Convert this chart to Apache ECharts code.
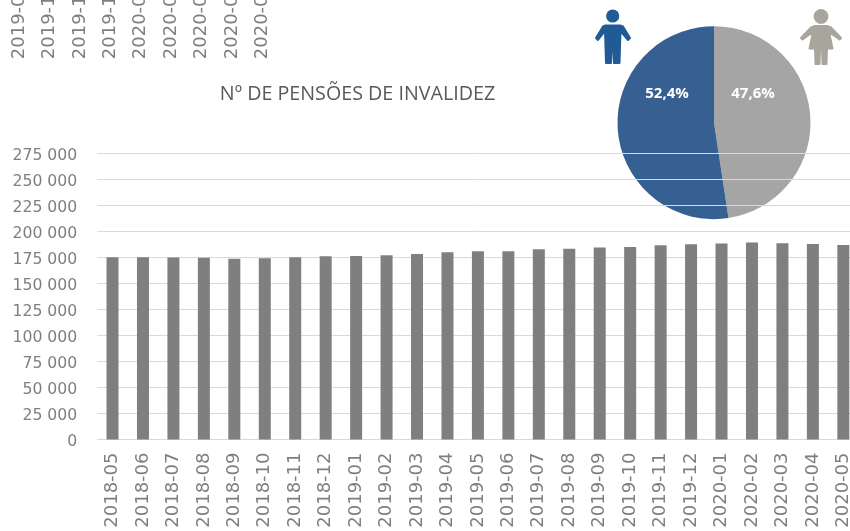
<!DOCTYPE html>
<html>
<head>
<meta charset="utf-8">
<style>html,body{margin:0;padding:0;background:#fff}#chart{width:850px;height:531px}</style>
<script src="https://cdn.jsdelivr.net/npm/echarts@6/dist/echarts.min.js"></script>
</head>
<body>
<div id="chart"></div>
<script>
const months = ['2018-05','2018-06','2018-07','2018-08','2018-09','2018-10','2018-11','2018-12','2019-01','2019-02','2019-03','2019-04','2019-05','2019-06','2019-07','2019-08','2019-09','2019-10','2019-11','2019-12','2020-01','2020-02','2020-03','2020-04','2020-05']
const pensions = [175300,175200,175000,174800,173800,174200,175200,176100,176500,177200,178300,180000,181000,181000,182900,183500,184500,185200,186800,187800,188400,189400,188700,188100,187100]
// labels left over from the chart above, cut off by the top edge
const cutMonths = ['2019-09','2019-10','2019-11','2019-12','2020-01','2020-02','2020-03','2020-04','2020-05']
const sexNames = ['Mulheres','Homens']
const sexShares = [47.6,52.4]
const sexColors = ['#a5a5a5','#376092']

const fontName = '"DejaVu Sans"'
const textGrey = '#7f7f7f'
const chart = echarts.init(document.getElementById('chart'))

const opt = {
  animation: false,
  backgroundColor: '#fff',
  title: {
    text: 'Nº DE PENSÕES DE INVALIDEZ',
    left: 352.5, top: 79, textAlign: 'center',
    textStyle: { fontFamily: '"Open Sans"', fontSize: 19.7, fontWeight: 'normal', color: '#595959' }
  },
  grid: [
    { left: 97.3, top: 153.5, width: 761.25, height: 286, outerBoundsMode: 'none' },
    { left: 3.8, top: -30, width: 274, height: 1, outerBoundsMode: 'none' }
  ],
  xAxis: [
    {
      type: 'category', gridIndex: 0, data: months,
      axisLine: { lineStyle: { color: '#d9d9d9' } },
      axisTick: { show: false },
      axisLabel: { rotate: 90, interval: 0, margin: 13, fontFamily: fontName, fontSize: 18, color: textGrey }
    },
    {
      type: 'category', gridIndex: 1, data: cutMonths,
      axisLine: { show: false },
      axisTick: { show: false },
      axisLabel: { rotate: 90, interval: 0, margin: 13, fontFamily: fontName, fontSize: 18, color: textGrey }
    }
  ],
  yAxis: [
    {
      type: 'value', gridIndex: 0, min: 0, max: 275000, interval: 25000,
      axisLine: { show: false },
      axisTick: { show: false },
      splitLine: { lineStyle: { color: '#d9d9d9' } },
      axisLabel: {
        margin: 20, fontFamily: fontName, fontSize: 15.7, color: textGrey,
        verticalAlign: 'top', lineHeight: 4,
        formatter: v => String(v).replace(/\B(?=(\d{3})+$)/g, ' ')
      }
    },
    { type: 'value', gridIndex: 1, show: false }
  ],
  series: [
    {
      // behind the grid lines, they run across the pie in the original
      type: 'pie', z: -1,
      center: [714, 122.7], radius: 96.5, startAngle: 90,
      data: sexNames.map((n, i) => ({ name: n, value: sexShares[i], itemStyle: { color: sexColors[i] } })),
      label: {
        position: 'inside',
        formatter: p => p.value.toFixed(1).replace('.', ',') + '%',
        fontFamily: '"Open Sans"', fontSize: 15, fontWeight: 'bold', color: '#fff'
      },
      labelLine: { show: false },
      labelLayout: p => ({ x: p.dataIndex === 0 ? 753 : 667, y: 94, align: 'center', verticalAlign: 'middle' }),
      emphasis: { disabled: true }
    },
    {
      type: 'bar', xAxisIndex: 0, yAxisIndex: 0,
      data: pensions, barWidth: 12,
      itemStyle: { color: '#7f7f7f' }
    }
  ],
  graphic: [
    { type: 'circle', shape: { cx: 612.7, cy: 16, r: 6.6 }, style: { fill: '#215b96' } },
    {
      type: 'polygon',
      shape: { points: [[605.5,25.5],[620,25.5],[623,26.5],[630,38],[628,40],[620.5,31],[619.5,63],[614,63],[613.5,46],[612,46],[611,63],[606,63],[605,31],[598,40],[596,38],[603,26.5]] },
      style: { fill: '#215b96', stroke: '#215b96', lineWidth: 2, lineJoin: 'round' }
    },
    { type: 'circle', shape: { cx: 821, cy: 16.5, r: 7.4 }, style: { fill: '#a8a69c' } },
    {
      type: 'polygon',
      shape: { points: [[815,26],[827,26],[831,27.5],[841,38],[839.5,39.5],[829,32],[832.5,48.5],[827,48.5],[826.5,64],[822.5,64],[822,48.5],[820,48.5],[819.5,64],[815.5,64],[815,48.5],[809.5,48.5],[813,32],[802.5,39.5],[801,38],[811,27.5]] },
      style: { fill: '#a8a69c', stroke: '#a8a69c', lineWidth: 2, lineJoin: 'round' }
    }
  ]
}
chart.setOption(opt)
</script>
</body>
</html>
